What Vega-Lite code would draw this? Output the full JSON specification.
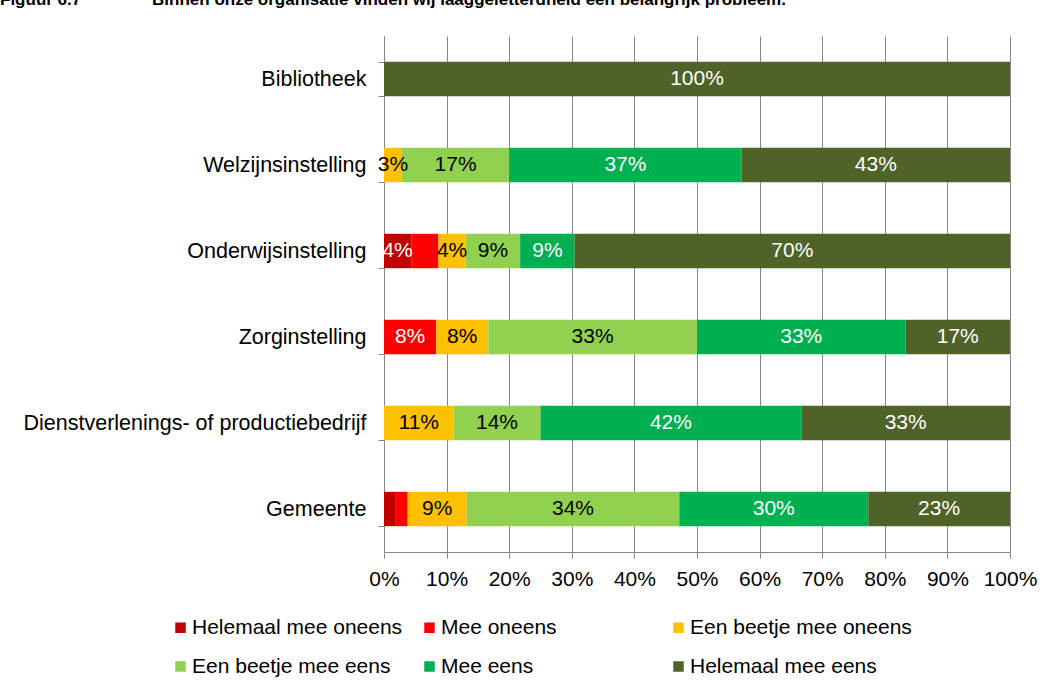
{
  "$schema": "https://vega.github.io/schema/vega-lite/v6.json",
  "width": 626,
  "height": 516,
  "autosize": {"type": "none"},
  "padding": {"left": 384, "top": 36, "right": 49, "bottom": 141},
  "background": "white",
  "title": {
    "text": "Figuur 6.7\u00a0\u00a0\u00a0\u00a0\u00a0\u00a0\u00a0\u00a0\u00a0\u00a0\u00a0\u00a0\u00a0\u00a0\u00a0Binnen onze organisatie vinden wij laaggeletterdheid een belangrijk probleem.",
    "anchor": "start",
    "frame": "group",
    "dx": -384,
    "dy": -3,
    "offset": 0,
    "baseline": "alphabetic",
    "fontSize": 17,
    "fontWeight": "bold",
    "font": "Liberation Sans",
    "color": "black"
  },
  "data": {
    "values": [
      {"org": "Bibliotheek", "category": "Helemaal mee eens", "rank": 6, "value": 1.0},
      {"org": "Welzijnsinstelling", "category": "Een beetje mee oneens", "rank": 3, "value": 0.0286},
      {"org": "Welzijnsinstelling", "category": "Een beetje mee eens", "rank": 4, "value": 0.1714},
      {"org": "Welzijnsinstelling", "category": "Mee eens", "rank": 5, "value": 0.3714},
      {"org": "Welzijnsinstelling", "category": "Helemaal mee eens", "rank": 6, "value": 0.4286},
      {"org": "Onderwijsinstelling", "category": "Helemaal mee oneens", "rank": 1, "value": 0.0435},
      {"org": "Onderwijsinstelling", "category": "Mee oneens", "rank": 2, "value": 0.0435},
      {"org": "Onderwijsinstelling", "category": "Een beetje mee oneens", "rank": 3, "value": 0.0435},
      {"org": "Onderwijsinstelling", "category": "Een beetje mee eens", "rank": 4, "value": 0.087},
      {"org": "Onderwijsinstelling", "category": "Mee eens", "rank": 5, "value": 0.087},
      {"org": "Onderwijsinstelling", "category": "Helemaal mee eens", "rank": 6, "value": 0.6957},
      {"org": "Zorginstelling", "category": "Mee oneens", "rank": 2, "value": 0.0833},
      {"org": "Zorginstelling", "category": "Een beetje mee oneens", "rank": 3, "value": 0.0833},
      {"org": "Zorginstelling", "category": "Een beetje mee eens", "rank": 4, "value": 0.3333},
      {"org": "Zorginstelling", "category": "Mee eens", "rank": 5, "value": 0.3333},
      {"org": "Zorginstelling", "category": "Helemaal mee eens", "rank": 6, "value": 0.1667},
      {"org": "Dienstverlenings- of productiebedrijf", "category": "Een beetje mee oneens", "rank": 3, "value": 0.1111},
      {"org": "Dienstverlenings- of productiebedrijf", "category": "Een beetje mee eens", "rank": 4, "value": 0.1389},
      {"org": "Dienstverlenings- of productiebedrijf", "category": "Mee eens", "rank": 5, "value": 0.4167},
      {"org": "Dienstverlenings- of productiebedrijf", "category": "Helemaal mee eens", "rank": 6, "value": 0.3333},
      {"org": "Gemeente", "category": "Helemaal mee oneens", "rank": 1, "value": 0.0189},
      {"org": "Gemeente", "category": "Mee oneens", "rank": 2, "value": 0.0189},
      {"org": "Gemeente", "category": "Een beetje mee oneens", "rank": 3, "value": 0.0943},
      {"org": "Gemeente", "category": "Een beetje mee eens", "rank": 4, "value": 0.3396},
      {"org": "Gemeente", "category": "Mee eens", "rank": 5, "value": 0.3019},
      {"org": "Gemeente", "category": "Helemaal mee eens", "rank": 6, "value": 0.2264}
    ]
  },
  "encoding": {
    "y": {
      "field": "org",
      "type": "nominal",
      "sort": ["Bibliotheek", "Welzijnsinstelling", "Onderwijsinstelling", "Zorginstelling", "Dienstverlenings- of productiebedrijf", "Gemeente"],
      "scale": {"paddingInner": 0.6, "paddingOuter": 0.3},
      "axis": {
        "title": null,
        "tickBand": "extent",
        "tickSize": 6,
        "tickColor": "#878787",
        "domainColor": "#878787",
        "labelFontSize": 21.5,
        "labelColor": "black",
        "labelPadding": 12,
        "labelLimit": 500,
        "grid": false
      }
    },
    "x": {
      "field": "value",
      "type": "quantitative",
      "stack": "zero",
      "scale": {"domain": [0, 1], "nice": false},
      "axis": {
        "title": null,
        "format": ".0%",
        "values": [0, 0.1, 0.2, 0.3, 0.4, 0.5, 0.6, 0.7, 0.8, 0.9, 1],
        "grid": true,
        "gridColor": "#878787",
        "gridOpacity": 1,
        "tickColor": "#878787",
        "domainColor": "#878787",
        "tickSize": 6,
        "labelFontSize": 21,
        "labelColor": "black",
        "labelPadding": 10,
        "labelFlush": false
      }
    },
    "order": {"field": "rank", "type": "quantitative"}
  },
  "layer": [
    {
      "mark": {"type": "bar"},
      "encoding": {
        "color": {
          "field": "category",
          "type": "nominal",
          "scale": {
            "domain": ["Helemaal mee oneens", "Mee oneens", "Een beetje mee oneens", "Een beetje mee eens", "Mee eens", "Helemaal mee eens"],
            "range": ["#C00000", "#FF0000", "#FFC000", "#92D050", "#00B050", "#4F6228"]
          },
          "legend": {
            "title": null,
            "orient": "none",
            "legendX": -214,
            "legendY": 581,
            "direction": "horizontal",
            "columns": 3,
            "gridAlign": "all",
            "columnPadding": 5,
            "rowPadding": 17,
            "symbolType": "square",
            "symbolSize": 110,
            "symbolStrokeWidth": 0,
            "labelFontSize": 21,
            "labelColor": "black",
            "labelOffset": 1,
            "labelLimit": 400
          }
        }
      }
    },
    {
      "mark": {"type": "text", "fontSize": 21, "align": "center", "baseline": "middle"},
      "encoding": {
        "x": {"field": "value", "type": "quantitative", "stack": "zero", "bandPosition": 0.5},
        "detail": {"field": "category", "type": "nominal"},
        "text": {
          "condition": {
            "test": "datum.value < 0.025 || (datum.org === 'Onderwijsinstelling' && datum.category === 'Mee oneens')",
            "value": ""
          },
          "field": "value",
          "type": "quantitative",
          "format": ".0%"
        },
        "color": {
          "condition": {
            "test": "datum.category === 'Een beetje mee oneens' || datum.category === 'Een beetje mee eens'",
            "value": "black"
          },
          "value": "white"
        }
      }
    }
  ],
  "config": {
    "font": "Liberation Sans",
    "view": {"stroke": null},
    "axis": {"labelFont": "Liberation Sans"},
    "legend": {"labelFont": "Liberation Sans"}
  }
}
